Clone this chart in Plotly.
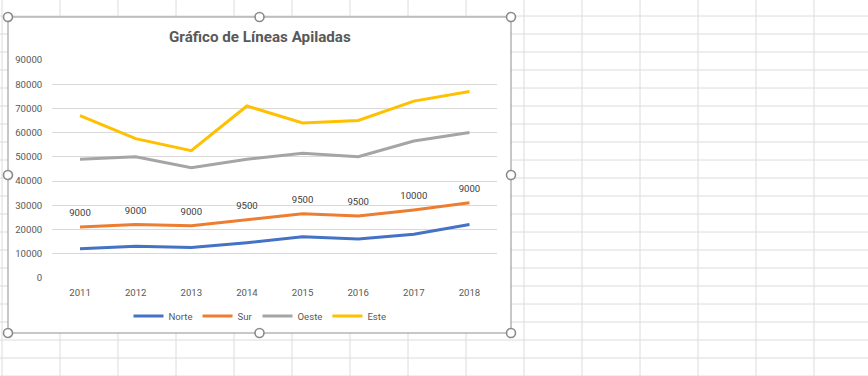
import plotly.graph_objects as go

# ---------------- data ----------------
years = ["2011", "2012", "2013", "2014", "2015", "2016", "2017", "2018"]
norte = [12000, 13000, 12500, 14500, 17000, 16000, 18000, 22000]
sur = [9000, 9000, 9000, 9500, 9500, 9500, 10000, 9000]
oeste = [28000, 28000, 24000, 25000, 25000, 24500, 28500, 29000]
este = [18000, 7500, 7000, 22000, 12500, 15000, 16500, 17000]
series_names = ["Norte", "Sur", "Oeste", "Este"]
y_ticks = [0, 10000, 20000, 30000, 40000, 50000, 60000, 70000, 80000, 90000]
title_text = "Gráfico de Líneas Apiladas"

# ---------------- layout helpers ----------------
W, H = 868, 376
FONT = "Roboto, Lato, sans-serif"
TXT = "#595959"


def px(x):
    return x / W


def py(y):
    return 1 - y / H


colors = ["#4472C4", "#ED7D31", "#A5A5A5", "#FFC000"]

fig = go.Figure()
for name, vals, col in zip(series_names, [norte, sur, oeste, este], colors):
    kw = dict(mode="lines")
    if name == "Sur":
        kw = dict(
            mode="lines+markers+text",
            text=[str(v) for v in vals],
            textposition="top center",
            textfont=dict(family=FONT, size=9.6, color="#404040"),
            marker=dict(size=12, color="rgba(0,0,0,0)"),
        )
    fig.add_trace(
        go.Scatter(
            x=years,
            y=vals,
            name=name,
            stackgroup="one",
            fill="none",
            line=dict(color=col, width=3),
            hoverinfo="skip",
            **kw,
        )
    )

# spreadsheet background grid
shapes = []
grid_col = "#dcdcdc"
x = 2
while x <= W:
    shapes.append(dict(type="line", xref="paper", yref="paper", x0=px(x), x1=px(x),
                       y0=0, y1=1, line=dict(color=grid_col, width=1), layer="below"))
    x += 58
y = 16
while y <= H:
    shapes.append(dict(type="line", xref="paper", yref="paper", x0=0, x1=1,
                       y0=py(y), y1=py(y), line=dict(color=grid_col, width=1), layer="below"))
    y += 18

# chart box
bx0, by0, bx1, by1 = 8, 17, 511, 333
shapes.append(dict(type="rect", xref="paper", yref="paper", x0=px(bx0), x1=px(bx1),
                   y0=py(by1), y1=py(by0), fillcolor="white",
                   line=dict(color="#8f8f8f", width=1), layer="below"))

# selection handles
r = 4.5
mx, my = (bx0 + bx1) / 2, (by0 + by1) / 2
for hx, hy in [(bx0, by0), (mx, by0), (bx1, by0), (bx0, my), (bx1, my),
               (bx0, by1), (mx, by1), (bx1, by1)]:
    shapes.append(dict(type="circle", xref="paper", yref="paper",
                       x0=px(hx - r), x1=px(hx + r), y0=py(hy + r), y1=py(hy - r),
                       fillcolor="white", line=dict(color="#8a8a8a", width=1.6),
                       layer="above"))

pl, pr, pt, pb = 52.2, 497.3, 60, 277.8

fig.update_layout(
    template="none",
    width=W,
    height=H,
    autosize=False,
    margin=dict(l=0, r=0, t=0, b=0, pad=0, autoexpand=False),
    paper_bgcolor="white",
    plot_bgcolor="rgba(0,0,0,0)",
    shapes=shapes,
    showlegend=True,
    legend=dict(
        orientation="h",
        x=px(260),
        xanchor="center",
        y=py(316),
        yanchor="middle",
        traceorder="normal",
        font=dict(family=FONT, size=9.6, color=TXT),
        itemwidth=30,
        bgcolor="rgba(0,0,0,0)",
    ),
    annotations=[
        dict(text="<b>" + title_text + "</b>", xref="paper", yref="paper",
             x=px(259.5), y=py(37), xanchor="center", yanchor="middle",
             showarrow=False, font=dict(family=FONT, size=15.2, color=TXT))
    ],
    xaxis=dict(
        domain=[px(pl), px(pr)],
        type="category",
        range=[-0.5, 7.5],
        automargin=False,
        showgrid=False,
        showline=False,
        zeroline=False,
        ticks="",
        tickfont=dict(family=FONT, size=9.6, color=TXT),
        ticklabelstandoff=8,
    ),
    yaxis=dict(
        domain=[py(pb), py(pt)],
        range=[0, 90000],
        automargin=False,
        tickvals=y_ticks,
        ticktext=[str(v) for v in y_ticks],
        showgrid=True,
        gridcolor="#d9d9d9",
        gridwidth=1,
        zeroline=False,
        showline=False,
        ticks="",
        tickfont=dict(family=FONT, size=9.6, color=TXT),
        ticklabelstandoff=9,
    ),
)

fig.write_html(
    "out.html",
    config={"displayModeBar": False, "responsive": False},
    post_script="document.body.style.margin='0';document.body.style.overflow='hidden';",
)
